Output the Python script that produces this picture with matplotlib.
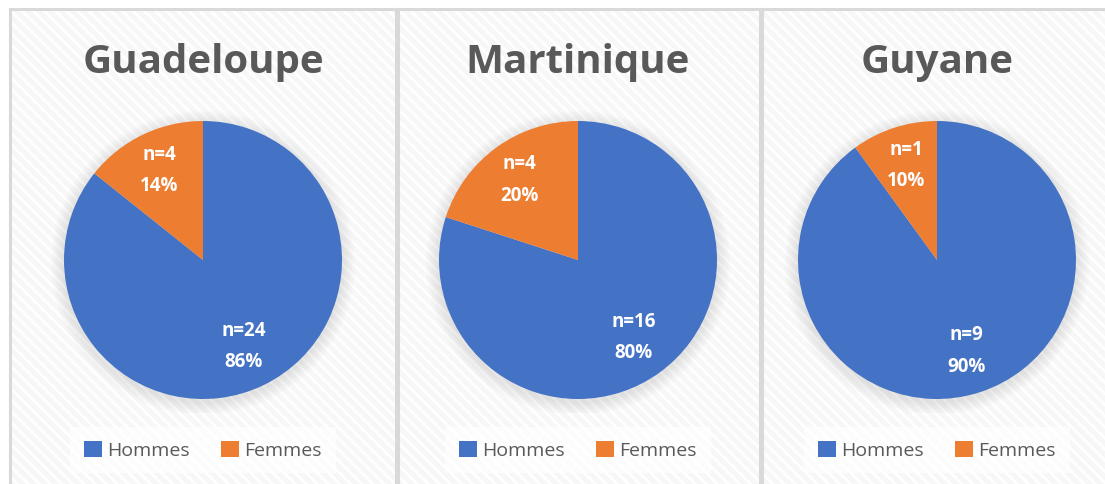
import numpy as np
import matplotlib.pyplot as plt
from matplotlib.patches import Rectangle, Circle

plt.rcParams['font.family'] = ['Open Sans', 'DejaVu Sans']
plt.rcParams['hatch.linewidth'] = 2.0

regions = ['Guadeloupe', 'Martinique', 'Guyane']
hommes_n = [24, 16, 9]
femmes_n = [4, 4, 1]
hommes_pct = [86, 80, 90]
femmes_pct = [14, 20, 10]
labels = ['Hommes', 'Femmes']
colors = ['#4472C4', '#ED7D31']

W, H = 1105, 485
fig = plt.figure(figsize=(W / 100, H / 100), dpi=100)
fig.patch.set_facecolor('white')

# panel boxes (pixels: left, right)
panels = [(10, 396), (398, 760), (762, 1112)]
centers = [203, 578, 937]
cy = 261
r = 139

for (x0, x1) in panels:
    bg = Rectangle((x0 / W, 0), (x1 - x0) / W, (H - 10) / H, transform=fig.transFigure,
                   facecolor='#f7f7f7', edgecolor='#ffffff', hatch='\\\\\\', lw=0, zorder=0)
    fig.add_artist(bg)
    border = Rectangle((x0 / W, -0.01), (x1 - x0) / W, (H - 10) / H + 0.01, transform=fig.transFigure,
                       facecolor='none', edgecolor='#d9d9d9', lw=2.2, zorder=1)
    fig.add_artist(border)

for i, name in enumerate(regions):
    cx = centers[i]
    pad = 1.1
    ax = fig.add_axes([(cx - r * pad) / W, (H - cy - r * pad) / H, 2 * r * pad / W, 2 * r * pad / H])
    ax.axis('off')

    # soft shadow
    for k in range(8):
        ax.add_patch(Circle((0, -0.02), 1.0 + 0.012 * (8 - k), color='#000000', alpha=0.012, lw=0, zorder=0))

    vals = [hommes_n[i], femmes_n[i]]
    pcts = [hommes_pct[i], femmes_pct[i]]
    wedges, _ = ax.pie(vals, colors=colors, startangle=90, counterclock=False, radius=1,
                       wedgeprops=dict(linewidth=0))
    ax.set_xlim(-pad, pad)
    ax.set_ylim(-pad, pad)
    ax.set_aspect('equal')
    for w in wedges:
        w.set_zorder(2)
    dist = [0.68, 0.72]
    for j, w in enumerate(wedges):
        ang = np.deg2rad((w.theta1 + w.theta2) / 2)
        ax.text(dist[j] * np.cos(ang), dist[j] * np.sin(ang),
                'n=%d\n%d%%' % (vals[j], pcts[j]), ha='center', va='center',
                color='white', fontsize=13.5, fontweight='bold', linespacing=1.75, zorder=3)

    fig.text(cx / W, 1 - 62 / H, name, ha='center', va='center', fontsize=29,
             fontweight='bold', color='#595959')

    leg = ax.legend(wedges, labels, loc='center', ncol=2, bbox_to_anchor=(cx / W, 1 - 451 / H),
                    bbox_transform=fig.transFigure, frameon=True, fancybox=False,
                    handlelength=0.9, handleheight=0.9, handletextpad=0.3, columnspacing=1.6,
                    fontsize=14, borderpad=0.7)
    leg.get_frame().set_facecolor('white')
    leg.get_frame().set_alpha(0.75)
    leg.get_frame().set_linewidth(0)
    for t in leg.get_texts():
        t.set_color('#595959')

fig.savefig('out.png', dpi=100)
